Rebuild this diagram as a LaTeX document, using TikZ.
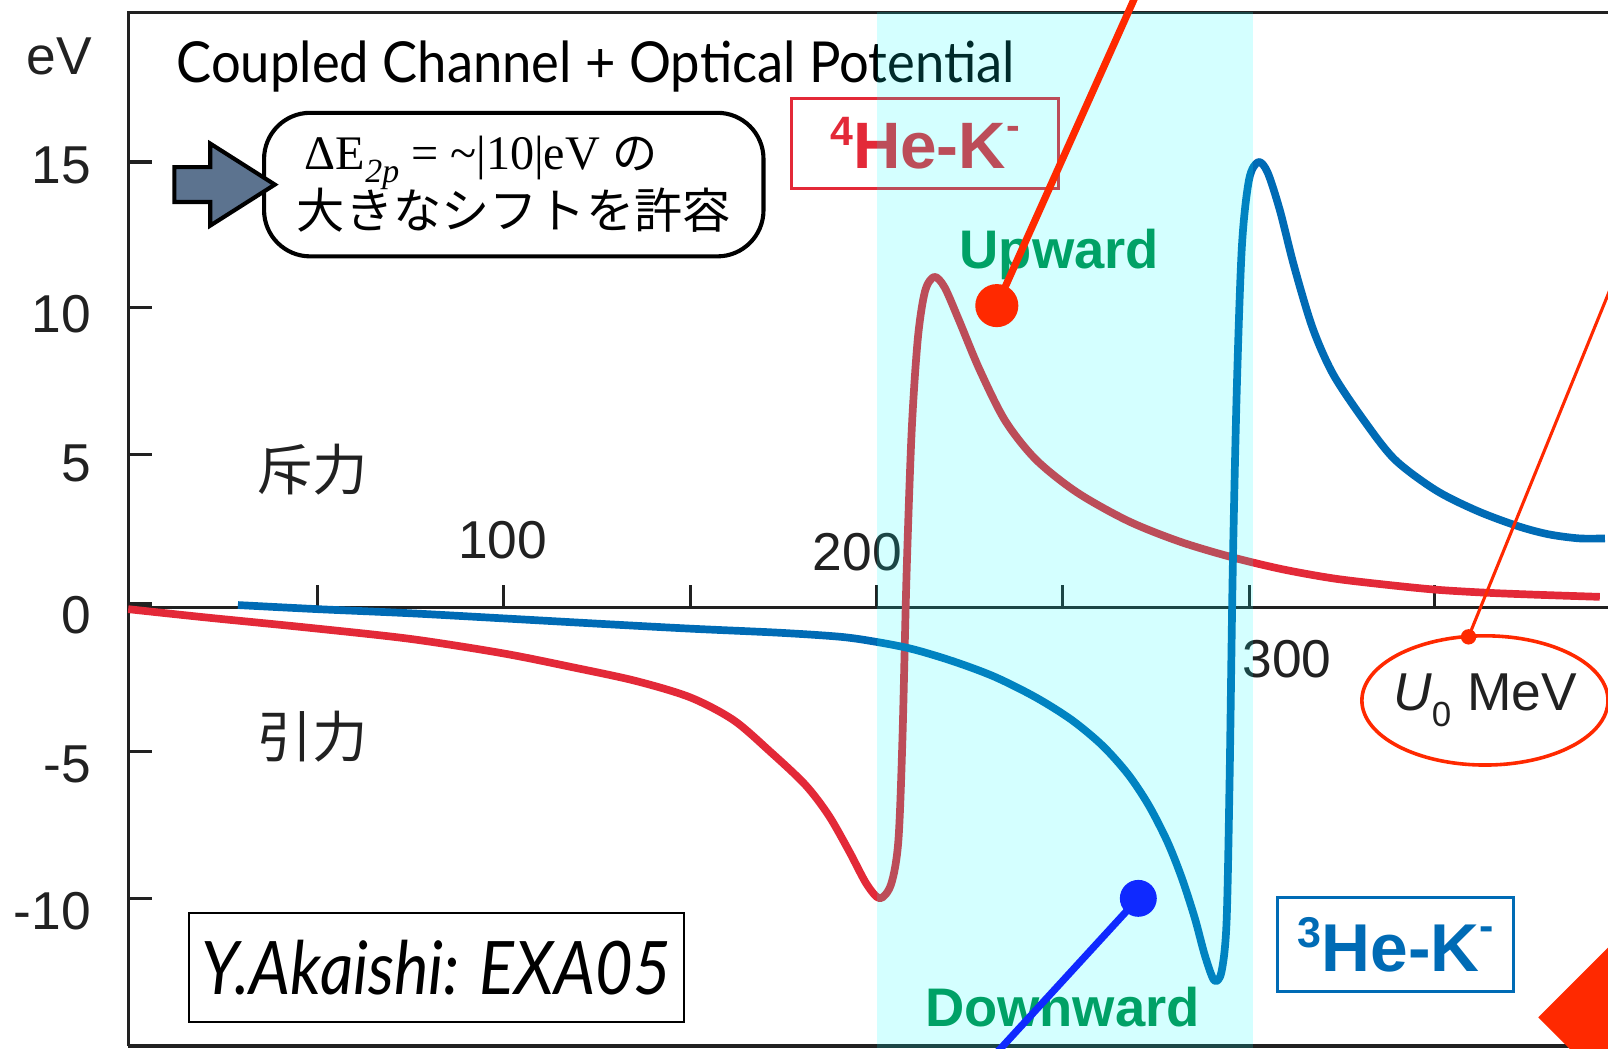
\documentclass[tikz,border=0pt]{standalone}
\usepackage{fontspec}
\setmainfont{Liberation Sans}
\newfontfamily\serifjp{Liberation Serif}
\newfontfamily\jpfont{Noto Sans CJK JP}
\newfontfamily\gillfont{Lato}
\usetikzlibrary{shapes.geometric}
\definecolor{redc}{rgb}{0.89,0.16,0.22}
\definecolor{bluec}{rgb}{0,0.42,0.71}
\definecolor{greenc}{rgb}{0,0.63,0.4}
\definecolor{ptrred}{rgb}{1,0.16,0}
\definecolor{ptrblue}{rgb}{0.06,0.16,1}
\definecolor{arrowfill}{rgb}{0.36,0.45,0.56}
\definecolor{axisc}{rgb}{0.13,0.13,0.13}
\definecolor{bandc}{rgb}{0,1,1}
\begin{document}
\begin{tikzpicture}[x=1pt,y=-1pt,
  ticklab/.style={font=\fontsize{52}{52}\selectfont, inner sep=0pt, text=axisc},
  axisline/.style={line width=3pt, axisc},
  curvered/.style={line width=7.5pt, redc, smooth, tension=0.5, line join=round},
  curveblue/.style={line width=7.5pt, bluec, smooth, tension=0.5, line join=round},
  jplab/.style={font=\jpfont\fontsize{54}{54}\selectfont, inner sep=0pt, text=axisc},
  greenlab/.style={font=\bfseries\fontsize{53}{53}\selectfont, text=greenc, inner sep=0pt},
  dotnode/.style={circle, inner sep=0pt},
]
\useasboundingbox (0,0) rectangle (1568,1022);
\clip (0,0) rectangle (1568,1022);
\fill[white] (0,0) rectangle (1568,1022);

% frame
\draw[axisline] (125,1020) -- (125,12) -- (1568,12);
\draw[axisline] (125,1020) -- (1568,1020);
% y ticks
\foreach \yy in {158,300,443,733,876} \draw[axisline] (125,\yy) -- (148,\yy);
\draw[line width=4.5pt, axisc] (125,589) -- (148,589);
% x axis and ticks
\draw[axisline] (125,592) -- (1568,592);
\foreach \xx in {310,491,673,855,1036,1218,1399} \draw[axisline] (\xx,592) -- (\xx,570);

% y labels
\node[ticklab] (leV) at (58,55) {eV};
\node[ticklab, anchor=east] (l15) at (89,161) {15};
\node[ticklab, anchor=east] (l10) at (89,306) {10};
\node[ticklab, anchor=east] (l5) at (89,452) {5};
\node[ticklab, anchor=east] (l0) at (89,600) {0};
\node[ticklab, anchor=east] (lm5) at (89,745) {-5};
\node[ticklab, anchor=east] (lm10) at (89,888) {-10};
% x labels
\node[ticklab] (l100) at (490,527) {100};
\node[ticklab] (l200) at (836,538) {200};
\node[ticklab] (l300) at (1255,643) {300};

% curves
\draw[curvered] plot coordinates {(125,594) (200,602) (300,612) (400,623) (490,637) (560,651) (620,664) (673,680) (715,702) (750,732) (785,765) (808,795) (828,830) (845,862) (858,876) (869,862) (876,820) (880,720) (884,560) (889,420) (895,330) (902,284) (911,270) (921,280) (935,312) (955,360) (980,410) (1010,448) (1050,480) (1100,508) (1150,528) (1200,543) (1250,555) (1300,564) (1350,570) (1400,575) (1450,578) (1500,580) (1560,582)};
\draw[curveblue] plot coordinates {(232,590) (310,594) (400,598) (491,603) (580,608) (673,613) (760,617) (820,621) (855,626) (890,633) (930,645) (970,660) (1010,680) (1045,702) (1075,727) (1100,755) (1120,785) (1138,820) (1152,855) (1165,895) (1175,932) (1184,956) (1191,948) (1196,900) (1199,760) (1202,560) (1206,380) (1211,240) (1218,175) (1227,158) (1236,168) (1248,205) (1262,260) (1280,320) (1300,365) (1330,410) (1360,448) (1400,478) (1440,498) (1480,513) (1510,521) (1540,525) (1565,525)};

% title
\node[font=\gillfont\fontsize{52}{52}\selectfont, anchor=base west, inner sep=0pt] (title) at (172,80) {\scalebox{0.985}[1.06]{Coupled Channel + Optical Potential}};

% 4He-K box
\node[draw=redc, line width=3pt, minimum width=260pt, minimum height=88pt, text=redc, font=\bfseries\fontsize{64}{64}\selectfont] (he4) at (902,140) {\raisebox{0.35em}{\fontsize{40}{40}\selectfont 4}He-K\raisebox{0.45em}{\fontsize{40}{40}\selectfont -}};

% callout
\node[draw, line width=4pt, rounded corners=45pt, minimum width=487pt, minimum height=140pt, align=left, inner sep=0pt] (callout) at (501,180)
  {{\serifjp\fontsize{47}{56}\selectfont \,ΔE\raisebox{-0.25em}{\fontsize{33}{33}\selectfont\itshape 2p} = \textasciitilde|10|eV }{\jpfont\fontsize{44}{56}\selectfont の}\\[-2pt]
   {\jpfont\fontsize{47}{56}\selectfont 大きなシフトを許容}};
% block arrow
\draw[line width=4pt, fill=arrowfill, line join=miter] (170,163) -- (205,163) -- (205,140) -- (268,180) -- (205,220) -- (205,197) -- (170,197) -- cycle;

% side labels
\node[jplab] (repl) at (305,458) {斥力};
\node[jplab] (attr) at (305,718) {引力};

% author box
\node[draw, line width=2pt, minimum width=483pt, minimum height=107pt, inner sep=0pt] (author) at (425.5,943.5)
  {\scalebox{0.88}[1]{\gillfont\itshape\fontsize{72}{72}\selectfont Y.Akaishi: EXA05}};

% 3He-K box
\node[draw=bluec, line width=3pt, minimum width=230pt, minimum height=92pt, text=bluec, font=\bfseries\fontsize{66}{66}\selectfont] (he3) at (1361,921) {\raisebox{0.35em}{\fontsize{42}{42}\selectfont 3}He-K\raisebox{0.45em}{\fontsize{42}{42}\selectfont -}};

% band
\fill[bandc, opacity=0.17] (855,12) rectangle (1222,1022);

% green labels
\node[greenlab] (up) at (1033,248) {Upward};
\node[greenlab] (down) at (1036,982) {Downward};

% red pointer
\node[dotnode, fill=ptrred, minimum size=42pt] (updot) at (972,298) {};
\coordinate (uptop) at (1110,-10);
\draw[ptrred, line width=7pt] (updot.center) -- (uptop);

% blue pointer
\node[dotnode, fill=ptrblue, minimum size=36pt] (downdot) at (1110,876) {};
\coordinate (downend) at (955,1045);
\draw[ptrblue, line width=7pt] (downdot.center) -- (downend);

% U0 ellipse
\node[font=\fontsize{52}{52}\selectfont, text=axisc, inner sep=0pt] (u0) at (1448,683)
  {\textit{U}\raisebox{-0.3em}{\fontsize{34}{34}\selectfont 0}\hspace{0.3em}MeV};
\draw[ptrred, line width=3.5pt] (u0.center) ellipse [x radius=120, y radius=63];
\node[dotnode, fill=ptrred, minimum size=15pt] (u0dot) at (1432,621) {};
\coordinate (u0end) at (1575,270);
\draw[ptrred, line width=3pt] (u0dot.center) -- (u0end);

% red diamond corner
\fill[ptrred] (1500,992) -- (1570,922) -- (1570,1024) -- (1532,1024) -- cycle;
\end{tikzpicture}
\end{document}
